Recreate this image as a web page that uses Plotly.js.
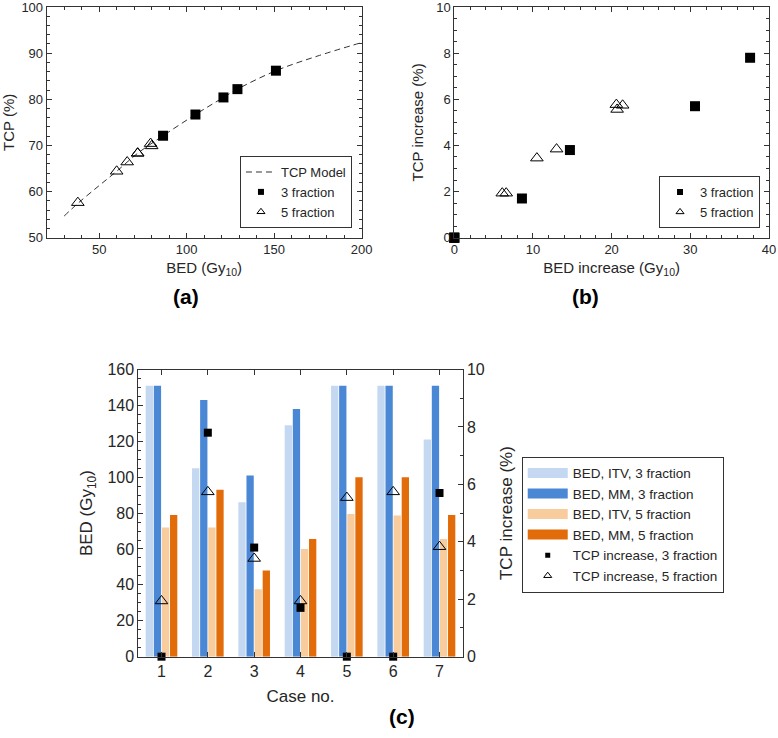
<!DOCTYPE html>
<html>
<head>
<meta charset="utf-8">
<script src="https://cdn.plot.ly/plotly-3.0.1.min.js"></script>
<style>
html,body{margin:0;padding:0;background:#fff;}
#chart{width:778px;height:738px;}
</style>
</head>
<body>
<div id="chart"></div>
<script>
// ---------- Panel (a): TCP vs BED ----------
const modelBED = [30, 38, 50, 60, 72, 86.5, 105, 121, 129, 151, 175, 200];
const modelTCP = [54.7, 57.5, 61.3, 64.4, 68.3, 72.1, 76.7, 80.4, 82.2, 86.2, 89.4, 92.3];
const bed3 = [86.5, 105, 121, 129, 151];
const tcp3 = [72.1, 76.7, 80.4, 82.2, 86.2];
const bed5 = [72, 72, 37.8, 60, 79.4, 80, 66];
const tcp5 = [68.3, 68.3, 57.6, 64.4, 70.4, 69.9, 66.4];

// ---------- Panel (b): TCP increase vs BED increase ----------
const dBED3 = [0, 37.6, 14.7, 8.6, 0, 0, 30.6];
const dTCP3 = [0, 7.8, 3.8, 1.7, 0, 0, 5.7];
const dBED5 = [6.6, 20.6, 10.5, 6.1, 20.7, 21.4, 13.0];
const dTCP5 = [1.93, 5.77, 3.45, 1.93, 5.56, 5.74, 3.84];

// ---------- Panel (c): per-case BED and TCP increase ----------
const cases = [1, 2, 3, 4, 5, 6, 7];
const bedITV3 = [151, 105, 86, 129, 151, 151, 121];
const bedMM3  = [151, 143, 101, 138, 151, 151, 151];
const bedITV5 = [72, 72, 37.5, 60, 79.5, 78.6, 65.6];
const bedMM5  = [79, 93, 48, 65.6, 100, 100, 79];
const tcpInc3 = [0, 7.8, 3.8, 1.7, 0, 0, 5.7];
const tcpInc5 = [1.94, 5.74, 3.42, 1.94, 5.54, 5.74, 3.83];

const barNames = ['BED, ITV, 3 fraction', 'BED, MM, 3 fraction', 'BED, ITV, 5 fraction', 'BED, MM, 5 fraction'];
const barColors = ['#c5d8f1', '#4a88d6', '#f9cc9d', '#e36c0a'];
const barData = [bedITV3, bedMM3, bedITV5, bedMM5];

const FONT = 'Liberation Sans, Arial, Helvetica, sans-serif';
const TXT = '#262626';
const LINE = '#333333';

const traces = [];

// (a)
traces.push({x: modelBED, y: modelTCP, xaxis: 'x', yaxis: 'y', mode: 'lines', line: {color: '#333', width: 1, dash: '6px,4px', shape: 'spline'}, name: 'TCP Model', legend: 'legend'});
traces.push({x: bed3, y: tcp3, xaxis: 'x', yaxis: 'y', mode: 'markers', marker: {symbol: 'square', size: 10, color: '#000'}, showlegend: false, cliponaxis: false});
traces.push({x: bed5, y: tcp5, xaxis: 'x', yaxis: 'y', mode: 'markers', marker: {symbol: 'triangle-up-open', size: 11, color: '#000', line: {width: 1}}, showlegend: false, cliponaxis: false});
traces.push({x: [null], y: [null], xaxis: 'x', yaxis: 'y', mode: 'markers', marker: {symbol: 'square', size: 6, color: '#000'}, name: '3 fraction', legend: 'legend'});
traces.push({x: [null], y: [null], xaxis: 'x', yaxis: 'y', mode: 'markers', marker: {symbol: 'triangle-up-open', size: 7, color: '#000', line: {width: 1}}, name: '5 fraction', legend: 'legend'});

// (b)
traces.push({x: dBED3, y: dTCP3, xaxis: 'x2', yaxis: 'y2', mode: 'markers', marker: {symbol: 'square', size: 10, color: '#000'}, showlegend: false, cliponaxis: false});
traces.push({x: dBED5, y: dTCP5, xaxis: 'x2', yaxis: 'y2', mode: 'markers', marker: {symbol: 'triangle-up-open', size: 11, color: '#000', line: {width: 1}}, showlegend: false, cliponaxis: false});
traces.push({x: [null], y: [null], xaxis: 'x2', yaxis: 'y2', mode: 'markers', marker: {symbol: 'square', size: 6, color: '#000'}, name: '3 fraction', legend: 'legend2'});
traces.push({x: [null], y: [null], xaxis: 'x2', yaxis: 'y2', mode: 'markers', marker: {symbol: 'triangle-up-open', size: 7, color: '#000', line: {width: 1}}, name: '5 fraction', legend: 'legend2'});

// (c) bars
for (let i = 0; i < 4; i++) {
  traces.push({type: 'bar', x: cases, y: barData[i], xaxis: 'x3', yaxis: 'y3', marker: {color: barColors[i], line: {width: 0}}, showlegend: false, offsetgroup: String(i)});
}
traces.push({x: cases, y: tcpInc3, xaxis: 'x3', yaxis: 'y4', mode: 'markers', marker: {symbol: 'square', size: 8, color: '#000'}, showlegend: false, cliponaxis: false});
traces.push({x: cases, y: tcpInc5, xaxis: 'x3', yaxis: 'y4', mode: 'markers', marker: {symbol: 'triangle-up-open', size: 11, color: '#000', line: {width: 1}}, showlegend: false, cliponaxis: false});
// (c) legend entries
for (let i = 0; i < 4; i++) {
  traces.push({x: [null], y: [null], xaxis: 'x3', yaxis: 'y3', mode: 'lines', line: {color: barColors[i], width: 15}, name: barNames[i], legend: 'legend3'});
}
traces.push({x: [null], y: [null], xaxis: 'x3', yaxis: 'y4', mode: 'markers', marker: {symbol: 'square', size: 5, color: '#000'}, name: 'TCP increase, 3 fraction', legend: 'legend3'});
traces.push({x: [null], y: [null], xaxis: 'x3', yaxis: 'y4', mode: 'markers', marker: {symbol: 'triangle-up-open', size: 7, color: '#000', line: {width: 1}}, name: 'TCP increase, 5 fraction', legend: 'legend3'});

function ax(extra) {
  return Object.assign({
    showline: true, linecolor: LINE, linewidth: 1, mirror: 'allticks',
    ticks: 'inside', ticklen: 5, tickcolor: LINE, tickwidth: 1,
    showgrid: false, zeroline: false, automargin: false, ticklabeloverflow: 'allow',
    tickfont: {family: FONT, size: 13, color: TXT},
    title: {font: {family: FONT, size: 15, color: TXT}}
  }, extra);
}

const layout = {
  width: 778, height: 738,
  margin: {l: 0, r: 0, t: 0, b: 0},
  paper_bgcolor: '#fff', plot_bgcolor: '#fff',
  font: {family: FONT, color: TXT},
  barmode: 'group', bargap: 0.3, bargroupgap: 0.1,
  xaxis: ax({domain: [0.0600, 0.4649], anchor: 'y', range: [20, 200], dtick: 50, tick0: 0,
    minor: {dtick: 10, ticks: 'inside', ticklen: 3, tickcolor: LINE},
    title: {text: 'BED (Gy<sub>10</sub>)', standoff: 6, font: {family: FONT, size: 15, color: TXT}}}),
  yaxis: ax({domain: [0.6779, 0.9905], anchor: 'x', range: [50, 100], dtick: 10,
    minor: {dtick: 2, ticks: 'inside', ticklen: 3, tickcolor: LINE},
    title: {text: 'TCP (%)', standoff: 8, font: {family: FONT, size: 15, color: TXT}}}),
  xaxis2: ax({domain: [0.5839, 0.9884], anchor: 'y2', range: [0, 40], dtick: 10,
    minor: {dtick: 2, ticks: 'inside', ticklen: 3, tickcolor: LINE},
    title: {text: 'BED increase (Gy<sub>10</sub>)', standoff: 6, font: {family: FONT, size: 15, color: TXT}}}),
  yaxis2: ax({domain: [0.6779, 0.9905], anchor: 'x2', range: [0, 10], dtick: 2,
    minor: {dtick: 0.5, ticks: 'inside', ticklen: 3, tickcolor: LINE},
    title: {text: 'TCP increase (%)', standoff: 8, font: {family: FONT, size: 15, color: TXT}}}),
  xaxis3: ax({domain: [0.1778, 0.5947], anchor: 'y3', range: [0.5, 7.5], tickvals: cases, ticktext: cases.map(String),
    tickfont: {family: FONT, size: 16, color: TXT}, mirror: 'ticks',
    title: {text: 'Case no.', standoff: 11, font: {family: FONT, size: 17, color: TXT}}}),
  yaxis3: ax({domain: [0.1102, 0.4993], anchor: 'x3', range: [0, 160], dtick: 20, mirror: false,
    tickfont: {family: FONT, size: 16, color: TXT},
    minor: {dtick: 5, ticks: 'inside', ticklen: 3, tickcolor: LINE},
    title: {text: 'BED (Gy<sub>10</sub>)', standoff: 10, font: {family: FONT, size: 17, color: TXT}}}),
  yaxis4: ax({domain: [0.1102, 0.4993], anchor: 'x3', overlaying: 'y3', side: 'right', range: [0, 10], dtick: 2, mirror: false,
    tickfont: {family: FONT, size: 16, color: TXT},
    minor: {dtick: 1, ticks: 'inside', ticklen: 3, tickcolor: LINE},
    title: {text: 'TCP increase (%)', standoff: 16, font: {family: FONT, size: 17, color: TXT}}}),
  legend: {x: 0.4524, xanchor: 'right', y: 0.691, yanchor: 'bottom', bgcolor: '#fff', bordercolor: LINE, borderwidth: 1,
    font: {family: FONT, size: 13, color: TXT}, itemwidth: 30, tracegroupgap: 0},
  legend2: {x: 0.9769, xanchor: 'right', y: 0.691, yanchor: 'bottom', bgcolor: '#fff', bordercolor: LINE, borderwidth: 1,
    font: {family: FONT, size: 13, color: TXT}, itemwidth: 30, tracegroupgap: 0},
  legend3: {x: 0.6706, xanchor: 'left', y: 0.3812, yanchor: 'top', bgcolor: '#fff', bordercolor: LINE, borderwidth: 1,
    font: {family: FONT, size: 13.5, color: TXT}, itemwidth: 40, tracegroupgap: 0},
  annotations: [
    {text: '<b>(a)</b>', x: 0.239, y: 0.5976, xref: 'paper', yref: 'paper', xanchor: 'center', yanchor: 'middle', showarrow: false, font: {family: FONT, size: 21, color: '#000'}},
    {text: '<b>(b)</b>', x: 0.753, y: 0.5976, xref: 'paper', yref: 'paper', xanchor: 'center', yanchor: 'middle', showarrow: false, font: {family: FONT, size: 21, color: '#000'}},
    {text: '<b>(c)</b>', x: 0.5167, y: 0.02846, xref: 'paper', yref: 'paper', xanchor: 'center', yanchor: 'middle', showarrow: false, font: {family: FONT, size: 21, color: '#000'}}
  ]
};

Plotly.newPlot('chart', traces, layout, {displayModeBar: false, staticPlot: true});
</script>
</body>
</html>
